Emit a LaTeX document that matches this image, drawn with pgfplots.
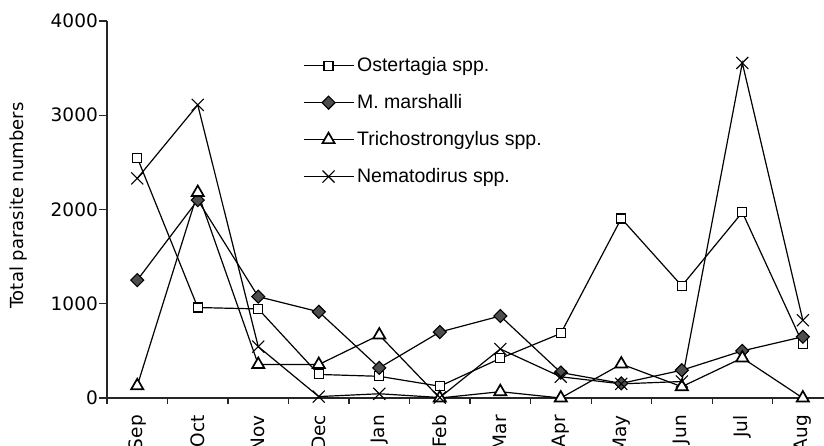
\documentclass[border=0pt]{standalone}
\usepackage{fontspec}
\setmainfont{DejaVu Sans}
\newfontfamily\legfont{Liberation Sans}
\usepackage{pgfplots}
\pgfplotsset{compat=1.18}
\definecolor{dgray}{RGB}{77,77,77}
\begin{document}
\fontsize{18.5bp}{22bp}\selectfont
\begin{tikzpicture}
\begin{axis}[
  name=ax,
  scale only axis, width=717bp, height=377bp,
  xmin=-0.5, xmax=11.35, ymin=0, ymax=4000,
  clip=false,
  axis x line*=bottom, axis y line*=left,
  axis line style={line width=1.1bp, black!85, -},
  tick align=outside,
  major tick length=8bp,
  minor tick length=6bp,
  xtick={0,...,11},
  xticklabels={Sep,Oct,Nov,Dec,Jan,Feb,Mar,Apr,May,Jun,Jul,Aug},
  major x tick style={draw=none},
  minor xtick={-0.5,0.5,...,10.5},
  minor x tick style={line width=1.1bp, black!85},
  ytick={0,1000,2000,3000,4000},
  y tick style={line width=1.1bp, black!85},
  x tick label style={rotate=90, anchor=east, inner sep=0pt, font=\fontsize{18.5bp}{22bp}\selectfont},
  xticklabel shift=9bp,
  y tick label style={inner sep=1bp, font=\fontsize{18.5bp}{22bp}\selectfont},
  /pgf/number format/.cd, assume math mode=true, set thousands separator={},
  /pgfplots/.cd,
  ylabel={Total parasite numbers},
  ylabel style={at={(axis description cs:-0.124,0.51)}, anchor=center, rotate=0, font=\fontsize{18bp}{22bp}\selectfont},
  legend style={draw=none, fill=none, at={(axis description cs:0.273,0.912)}, anchor=north west,
    legend cell align=left, row sep=14bp, inner sep=0pt,
    font=\legfont\fontsize{19.5bp}{21bp}\selectfont,
    nodes={inner sep=3bp}},
  legend image code/.code={\draw[mark repeat=2, mark phase=2] plot coordinates {(0bp,0bp) (25bp,0bp) (50bp,0bp)};},
]
\addplot[black, line width=1.2bp, mark=square*, mark size=4.5bp, mark options={fill=white, line width=1.1bp}]
  coordinates {(0,2550) (1,960) (2,945) (3,250) (4,230) (5,125) (6,420) (7,685) (8,1905) (9,1190) (10,1970) (11,575)};
\addlegendentry{Ostertagia spp.}
\addplot[black, line width=1.2bp, mark=square*, mark size=4.6bp, mark options={fill=dgray, rotate=45, line width=1.1bp}]
  coordinates {(0,1250) (1,2100) (2,1075) (3,915) (4,320) (5,700) (6,870) (7,270) (8,155) (9,295) (10,500) (11,650)};
\addlegendentry{M. marshalli}
\addplot[black, line width=1.2bp, mark=triangle*, mark size=7bp, mark options={fill=white, line width=1.7bp}]
  coordinates {(0,130) (1,2180) (2,355) (3,355) (4,668) (5,0) (6,67) (7,0) (8,360) (9,120) (10,425) (11,0)};
\addlegendentry{Trichostrongylus spp.}
\addplot[black, line width=1.2bp, mark=x, mark size=8.5bp, mark options={line width=1.1bp}]
  coordinates {(0,2330) (1,3110) (2,545) (3,15) (4,45) (5,5) (6,520) (7,225) (8,150) (9,175) (10,3555) (11,825)};
\addlegendentry{Nematodirus spp.}
\coordinate (bbsw) at (rel axis cs:0,0);
\coordinate (bbne) at (rel axis cs:1,1);
\end{axis}
\pgfresetboundingbox
\path[use as bounding box] ([shift={(-107bp,-48bp)}]bbsw) rectangle ([shift={(0bp,21bp)}]bbne);
\end{tikzpicture}
\end{document}
